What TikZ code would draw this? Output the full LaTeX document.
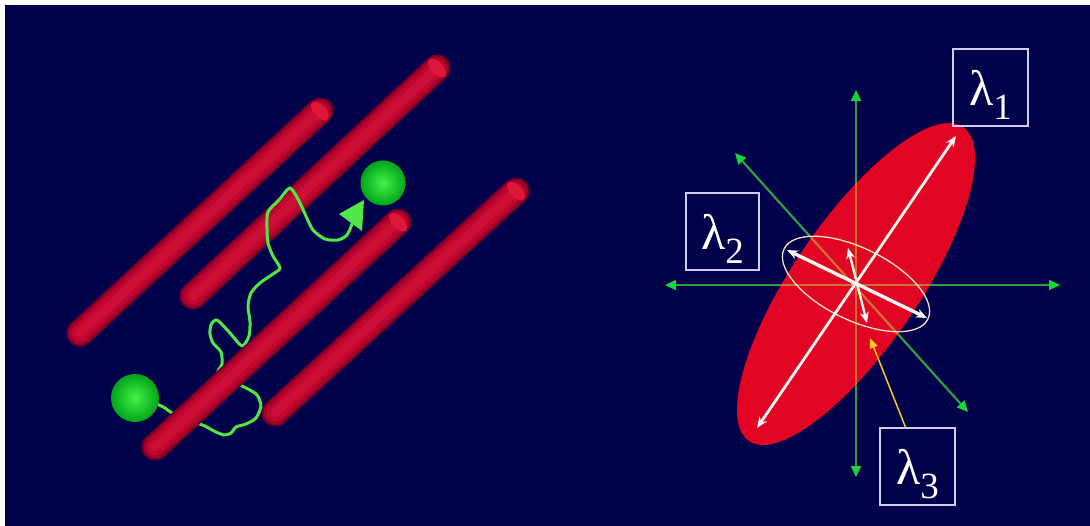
\documentclass[tikz,border=0pt]{standalone}
\usepackage{fontspec}
\setmainfont{Liberation Serif}
\usetikzlibrary{arrows.meta}

\definecolor{navy}{RGB}{0,0,75}
\definecolor{rodA}{RGB}{110,0,40}
\definecolor{rodB}{RGB}{165,0,42}
\definecolor{rodC}{RGB}{192,6,46}
\definecolor{rodD}{RGB}{205,14,52}
\definecolor{rodcap}{RGB}{222,22,58}
\definecolor{ballin}{RGB}{70,240,70}
\definecolor{ballout}{RGB}{0,165,25}
\definecolor{pathgreen}{RGB}{80,232,70}
\definecolor{axisgreen}{RGB}{45,160,70}
\definecolor{tipgreen}{RGB}{20,215,60}
\definecolor{axisorange}{RGB}{210,115,45}
\definecolor{blobred}{RGB}{225,5,35}
\definecolor{boxline}{RGB}{205,205,240}
\definecolor{pointer}{RGB}{245,200,40}
\definecolor{whiteish}{RGB}{245,245,240}
\definecolor{ringcream}{RGB}{240,225,200}

% a red cylinder between two end points, with an end cap at the second one
\newcommand{\cylrod}[2]{%
  \draw[line cap=round, line width=27pt, draw=rodA] (#1) -- (#2);
  \draw[line cap=round, line width=23pt, draw=rodB] (#1) -- (#2);
  \draw[line cap=round, line width=17pt, draw=rodC] (#1) -- (#2);
  \draw[line cap=round, line width=9pt, draw=rodD] (#1) -- (#2);
  \fill[rodcap, rotate around={43:(#2)}] (#2) ellipse (6 and 11.5);
}
% eigenvalue label: lambda with a subscript
\newcommand{\lamlbl}[1]{\raisebox{-18pt}[0pt][0pt]{\fontsize{50}{50}\selectfont λ\raisebox{-14pt}{\fontsize{37}{37}\selectfont #1}}}

\begin{document}
\begin{tikzpicture}[x=1pt,y=-1pt,
  ball/.style={circle, minimum size=48pt, inner sep=0pt, inner color=ballin, outer color=ballout},
  walk/.style={draw=pathgreen, line width=3pt, line cap=round, line join=round},
  axis/.style={draw=axisgreen, line width=2.2pt,
    {Triangle[length=11pt,width=10pt,color=tipgreen]}-{Triangle[length=11pt,width=10pt,color=tipgreen]}},
  axisin/.style={draw=axisorange, line width=2.2pt},
  eigen/.style={draw=whiteish, line cap=round,
    {Stealth[length=11pt,width=9pt]}-{Stealth[length=11pt,width=9pt]}},
  lbl/.style={draw=boxline, line width=1.6pt, minimum width=75pt, minimum height=77pt,
    inner sep=0pt, text=white},
  pointerarrow/.style={draw=pointer, line width=1.5pt, -{Triangle[length=10pt,width=8pt]}}
]
\useasboundingbox (0,0) rectangle (1090,526);
\fill[white] (0,0) rectangle (1090,526);
\fill[navy] (5,5) rectangle (1090,526);

% ---------- left: channels and a diffusing particle ----------
\coordinate (a0) at (80,333);  \coordinate (a1) at (320,111);
\coordinate (b0) at (193,296); \coordinate (b1) at (437,68);
\coordinate (c0) at (155,447); \coordinate (c1) at (398,222);
\coordinate (d0) at (275,413); \coordinate (d1) at (516,191);

\cylrod{a0}{a1}
\cylrod{b0}{b1}
\cylrod{d0}{d1}

\draw[walk] plot[smooth, tension=0.45] coordinates {
  (157,404) (165,408) (172,413) (185,418) (197,423) (205,426) (214,431)
  (224,435) (231,433) (236,427) (246,424) (256,418) (261,406) (257,395)
  (248,389) (232,381) (218,373) (222,364) (221,352) (213,343) (210,334)
  (211,325) (217,320) (230,333) (242,346) (249,336) (250,322) (248,306)
  (251,293) (260,283) (273,274) (280,268) (273,256) (268,243) (267,228)
  (268,212) (279,200) (290,188) (299,201) (305,214) (313,230) (325,239)
  (338,240) (347,235) (352,224)};
\coordinate (tip) at (364,200);
\fill[pathgreen] (tip) -- (339,214) -- (362,231) -- cycle;

\node[ball] (start) at (135,398) {};
\node[ball, minimum size=45pt] (goal) at (383,183) {};

\cylrod{c0}{c1}

% ---------- right: diffusion ellipsoid ----------
\coordinate (o) at (856,284);
\draw[axis] (665,285) -- (1060,285);
\draw[axis] (856,90) -- (856,477);
\draw[axis] (735,153) -- (968,412);

\fill[blobred, rotate around={55.7:(o)}] (o) ellipse (190 and 63);
\begin{scope}
  \clip[rotate around={55.7:(o)}] (o) ellipse (190 and 63);
  \draw[axisin] (665,285) -- (1060,285);
  \draw[axisin] (856,90) -- (856,477);
  \draw[axisin] (735,153) -- (968,412);
\end{scope}

\draw[ringcream, line width=1.3pt, rotate around={-26:(o)}] (o) ellipse (80 and 36);
\coordinate (e1a) at (757,428); \coordinate (e1b) at (956,136);
\coordinate (e2a) at (787,250); \coordinate (e2b) at (927,318);
\coordinate (e3a) at (848,248); \coordinate (e3b) at (867,323);
\draw[eigen, line width=2.8pt] (e1a) -- (e1b);
\draw[eigen, line width=3.4pt] (e2a) -- (e2b);
\draw[eigen, line width=2.4pt] (e3a) -- (e3b);

\node[lbl] (l1) at (990.5,87.5) {\lamlbl{1}};
\node[lbl, minimum width=73pt] (l2) at (722.5,231.5) {\lamlbl{2}};
\node[lbl] (l3) at (917.5,466.5) {\lamlbl{3}};

\coordinate (e3mark) at (870,338);
\draw[pointerarrow] ([xshift=-12pt]l3.north) -- (e3mark);
\end{tikzpicture}
\end{document}
